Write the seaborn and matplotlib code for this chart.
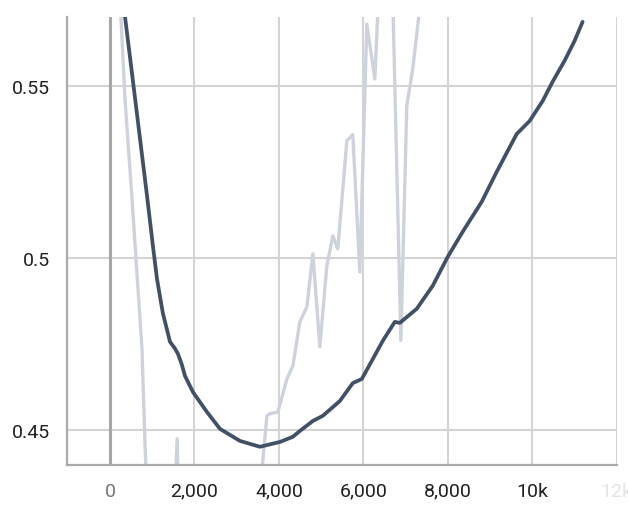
import matplotlib
matplotlib.use("Agg")
import matplotlib.pyplot as plt
import seaborn as sns
import pandas as pd

# raw series (light)
raw_step = [0, 237, 355, 521, 640, 757, 830, 900, 1200, 1500, 1590, 1640, 2000, 2500, 3000,
            3500, 3716, 3787, 3976, 4189, 4331, 4497, 4663, 4805, 4970, 5136, 5278, 5396,
            5609, 5751, 5917, 6083, 6272, 6450, 6650, 6890, 7030, 7172, 7500, 8000, 9000,
            10000, 11200]
raw_value = [0.70, 0.575, 0.546, 0.517, 0.495, 0.4735, 0.445, 0.425, 0.41, 0.42, 0.4474, 0.42,
             0.40, 0.41, 0.40, 0.425, 0.4541, 0.4547, 0.4552, 0.4648, 0.4686, 0.4814, 0.4858,
             0.5012, 0.4741, 0.4977, 0.5064, 0.5026, 0.534, 0.5358, 0.4959, 0.568, 0.552,
             0.60, 0.60, 0.476, 0.5442, 0.555, 0.59, 0.60, 0.62, 0.63, 0.65]

# smoothed series (dark)
smooth_step = [300, 355, 544, 710, 876, 1018, 1112, 1250, 1420, 1530, 1609, 1700, 1775, 1964,
               2296, 2604, 3077, 3550, 4024, 4331, 4497, 4805, 5041, 5444, 5751, 5964, 6225,
               6462, 6746, 6864, 7266, 7645, 8000, 8355, 8805, 9160, 9633, 9941, 10249,
               10485, 10769, 11006, 11195]
smooth_value = [0.590, 0.570, 0.5512, 0.5346, 0.518, 0.5032, 0.4939, 0.484, 0.4756, 0.4738,
                0.4721, 0.469, 0.4657, 0.461, 0.4552, 0.4503, 0.4468, 0.4451, 0.4465, 0.448,
                0.4497, 0.4526, 0.4541, 0.4584, 0.4636, 0.4648, 0.4706, 0.4759, 0.4814, 0.4811,
                0.4852, 0.4919, 0.5003, 0.5076, 0.5163, 0.525, 0.536, 0.5398, 0.5456, 0.5512,
                0.5573, 0.5631, 0.5686]

x_ticks = [0, 2000, 4000, 6000, 8000, 10000, 12000]
x_labels = ["0", "2,000", "4,000", "6,000", "8,000", "10k", "12k"]
y_ticks = [0.45, 0.5, 0.55]
y_labels = ["0.45", "0.5", "0.55"]

sns.set_style("white")
plt.rcParams["font.family"] = ["Roboto", "DejaVu Sans"]

fig = plt.figure(figsize=(6.28, 5.06), dpi=100)
ax = fig.add_axes([67 / 628, 1 - 466 / 506, 550 / 628, 448 / 506])

raw_df = pd.DataFrame({"step": raw_step, "value": raw_value})
sm_df = pd.DataFrame({"step": smooth_step, "value": smooth_value})

grid_c = "#d4d4d4"
for xt in x_ticks[1:]:
    ax.axvline(xt, color=grid_c, lw=1.5, zorder=0)
for yt in y_ticks:
    ax.axhline(yt, color=grid_c, lw=1.5, zorder=0)
ax.axvline(0, color="#a6a6a6", lw=2.2, zorder=0.5)

sns.lineplot(data=raw_df, x="step", y="value", ax=ax, color="#cdd2dc", lw=2.4,
             estimator=None, sort=False, zorder=2)
sns.lineplot(data=sm_df, x="step", y="value", ax=ax, color="#425066", lw=2.7,
             estimator=None, sort=False, zorder=3)

ax.set_xlim(-1020, 12010)
ax.set_ylim(0.4398, 0.570)
ax.set_xticks(x_ticks)
ax.set_xticklabels(x_labels)
ax.set_yticks(y_ticks)
ax.set_yticklabels(y_labels)
ax.set_xlabel("")
ax.set_ylabel("")
ax.tick_params(axis="both", length=0, labelsize=14, colors="#212121")
ax.tick_params(axis="x", pad=12)
ax.tick_params(axis="y", pad=12)
labs = ax.get_xticklabels()
labs[0].set_color("#757575")
labs[-1].set_color("#e4e4e4")

for s in ["top", "right"]:
    ax.spines[s].set_visible(False)
ax.spines["left"].set_color("#ababab")
ax.spines["left"].set_linewidth(1.6)
ax.spines["bottom"].set_color("#ababab")
ax.spines["bottom"].set_linewidth(1.6)

fig.savefig("out.png", dpi=100)
